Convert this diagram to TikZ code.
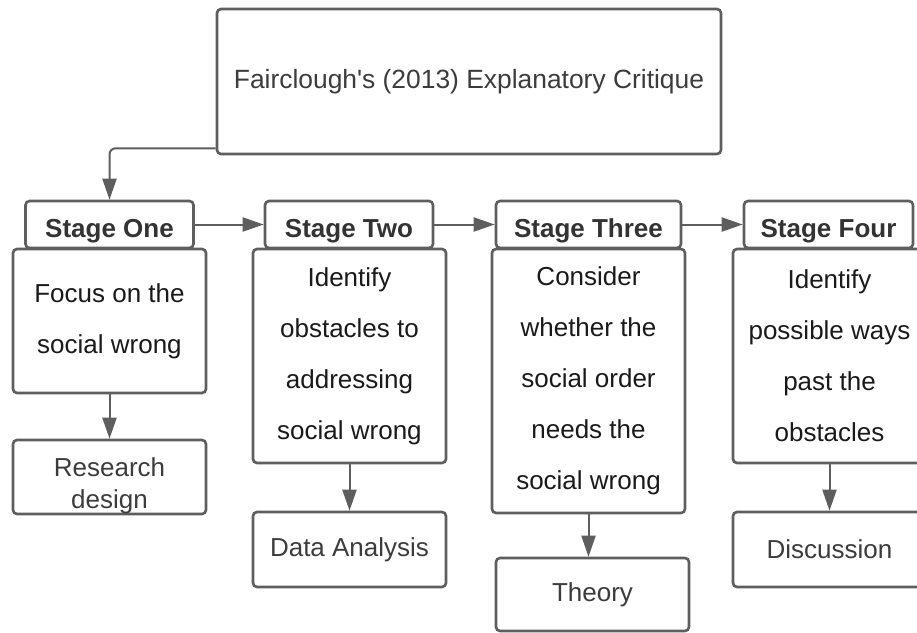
\documentclass[tikz,border=0pt]{standalone}
\usepackage{fontspec}
\setmainfont{Liberation Sans}
\usetikzlibrary{arrows.meta}
\definecolor{edge}{HTML}{5E5E5E}
\definecolor{headtext}{HTML}{333333}
\definecolor{bodytext}{HTML}{1A1A1A}
\definecolor{softtext}{HTML}{3C3C3C}
\begin{document}
\begin{tikzpicture}[x=1pt,y=-1pt,
  box/.style={draw=edge, line width=2.6pt, rounded corners=4pt, fill=white,
    inner sep=0pt, align=center},
  titlebox/.style={box, minimum width=504pt, minimum height=145pt,
    text=softtext, font=\fontsize{26.4}{31}\selectfont},
  headbox/.style={box, minimum width=168pt, minimum height=47pt,
    text height=25pt, text depth=0pt,
    text=headtext, font=\fontsize{26}{31}\selectfont\bfseries},
  bodybox/.style={box, minimum width=193pt,
    text=bodytext, font=\fontsize{26}{51}\selectfont},
  outbox/.style={box, minimum width=193pt, minimum height=74pt,
    text=softtext, font=\fontsize{26}{31}\selectfont},
  outtext/.style={inner sep=0pt, align=center, text=softtext,
    font=\fontsize{26}{32}\selectfont},
  conn/.style={draw=edge, line width=2pt, -{Triangle[length=21pt,width=14pt]}}
]
\useasboundingbox[fill=white] (0,0) rectangle (917,632);

% title
\node[titlebox] (title) at (469,81.5) {Fairclough\textquotesingle s (2013) Explanatory Critique};

% stage headers
\node[headbox] (h1) at (109.5,224.5) {Stage One};
\node[headbox] (h2) at (349,224.5) {Stage Two};
\node[headbox, minimum width=185pt] (h3) at (588.5,224.5) {Stage Three};
\node[headbox, minimum width=169pt] (h4) at (828.5,224.5) {Stage Four};

% stage bodies
\node[bodybox, minimum height=144pt] (b1) at (109.5,321)
  {Focus on the\\social wrong};
\node[bodybox, minimum height=214pt] (b2) at (349.5,356)
  {Identify\\obstacles to\\addressing\\social wrong};
\node[bodybox, minimum height=264pt] (b3) at (588.5,381)
  {Consider\\whether the\\social order\\needs the\\social wrong};
\node[bodybox, minimum height=214pt] (b4) at (829.5,356)
  {Identify\\possible ways\\past the\\obstacles};

% outcome boxes
\node[outbox] (o1) at (109.5,477) {};
\node[outtext] (o1t) at (109.5,486) {Research\\design};
\node[outbox, minimum height=75pt] (o2) at (349.5,549.5) {Data Analysis};
\node[outbox, minimum height=73pt] (o3) at (592.5,594.5) {\raisebox{-2pt}{Theory}};
\node[outbox, minimum height=75pt] (o4) at (829.5,549.5) {Discussion};

% connectors
\draw[conn, rounded corners=6pt] ([yshift=7pt]title.south west) -| (h1.north);
\draw[conn] (h1.east) -- (h2.west);
\draw[conn] (h2.east) -- (h3.west);
\draw[conn] (h3.east) -- (h4.west);
\draw[conn] (b1.south) -- (o1.north);
\draw[conn] (b2.south) -- (o2.north);
\draw[conn] (b3.south) -- (b3.south |- o3.north);
\draw[conn] (b4.south) -- (o4.north);
\end{tikzpicture}
\end{document}
